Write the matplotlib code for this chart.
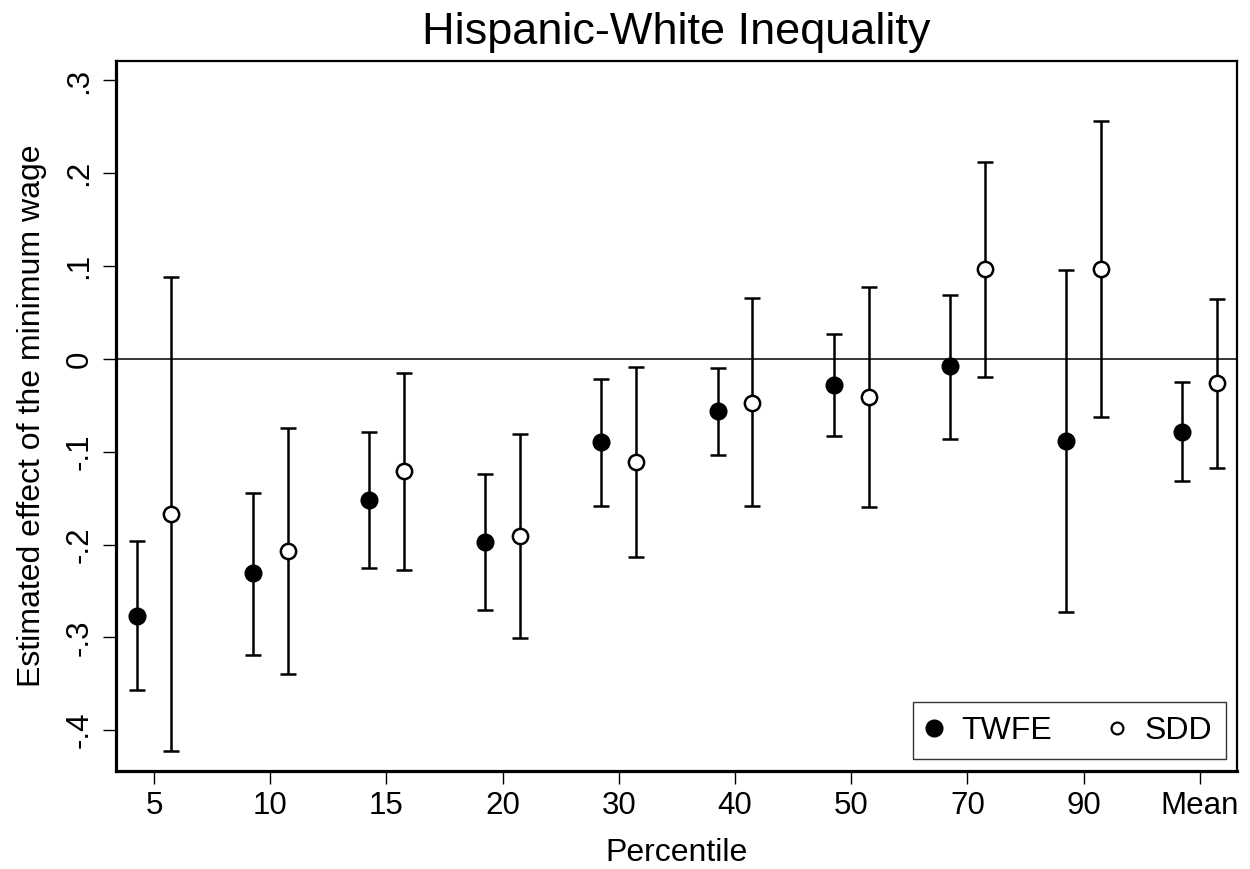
import matplotlib
matplotlib.use('Agg')
import matplotlib.pyplot as plt
import numpy as np

plt.rcParams['font.family'] = ['Liberation Sans', 'DejaVu Sans']

# estimates
groups = ['5', '10', '15', '20', '30', '40', '50', '70', '90', 'Mean']
twfe = [-0.277, -0.231, -0.152, -0.197, -0.090, -0.056, -0.028, -0.008, -0.088, -0.079]
twfe_lo = [-0.357, -0.319, -0.225, -0.271, -0.159, -0.103, -0.083, -0.086, -0.273, -0.132]
twfe_hi = [-0.196, -0.144, -0.079, -0.124, -0.022, -0.010, 0.027, 0.069, 0.096, -0.025]
sdd = [-0.167, -0.207, -0.121, -0.191, -0.111, -0.047, -0.041, 0.097, 0.097, -0.026]
sdd_lo = [-0.422, -0.340, -0.227, -0.301, -0.213, -0.159, -0.160, -0.019, -0.063, -0.118]
sdd_hi = [0.088, -0.074, -0.015, -0.081, -0.009, 0.066, 0.077, 0.212, 0.256, 0.065]
yticks = [-0.4, -0.3, -0.2, -0.1, 0, 0.1, 0.2, 0.3]
yticklabels = ['-.4', '-.3', '-.2', '-.1', '0', '.1', '.2', '.3']

x = np.arange(1, len(groups) + 1)
off = 0.15
fs = 23

fig = plt.figure(figsize=(12.5, 8.69), dpi=100)
ax = fig.add_axes([0.0928, 0.1128, 0.8968, 0.817])

ax.axhline(0, color='black', lw=1.1, zorder=1)

t = np.array(twfe)
s = np.array(sdd)
ax.errorbar(x - off, t, yerr=[t - np.array(twfe_lo), np.array(twfe_hi) - t],
            fmt='o', color='black', ms=12, mfc='black', mec='black',
            elinewidth=1.8, capsize=6, capthick=1.8, zorder=3)
ax.errorbar(x + off, s, yerr=[s - np.array(sdd_lo), np.array(sdd_hi) - s],
            fmt='o', color='black', ms=11, mfc='white', mec='black', mew=1.8,
            elinewidth=1.8, capsize=6, capthick=1.8, zorder=3)

ax.set_xlim(0.673, 10.32)
ax.set_ylim(-0.444, 0.321)
ax.set_xticks(x)
ax.set_xticklabels(groups, fontsize=22.5)
ax.set_yticks(yticks)
ax.set_yticklabels(yticklabels, fontsize=22.5, rotation=90, va='center')
ax.tick_params(axis='both', direction='out', length=9.4, width=1.0, color='black')
ax.tick_params(axis='x', pad=5)
ax.tick_params(axis='y', pad=6)

for side in ['left', 'bottom']:
    ax.spines[side].set_linewidth(2.3)
for side in ['top', 'right']:
    ax.spines[side].set_linewidth(1.6)

ax.set_xlabel('Percentile', fontsize=fs, labelpad=12)
ax.set_ylabel('Estimated effect of the minimum wage', fontsize=fs, labelpad=13)
ax.set_title('Hispanic-White Inequality', fontsize=32.5, pad=12)

# legend markers without error bars
h_twfe, = ax.plot([], [], 'o', color='black', ms=12)
h_sdd, = ax.plot([], [], 'o', mfc='white', mec='black', mew=1.6, ms=8.5)
leg = ax.legend([h_twfe, h_sdd], ['TWFE', 'SDD'], ncol=2, loc='lower right',
                bbox_to_anchor=(0.9899, 0.0165), borderaxespad=0,
                fancybox=False, edgecolor='black', fontsize=fs,
                handletextpad=0.6, columnspacing=1.8, handlelength=0.5,
                borderpad=0.42)
leg.get_frame().set_linewidth(1.0)

fig.savefig('out.png', dpi=100)
